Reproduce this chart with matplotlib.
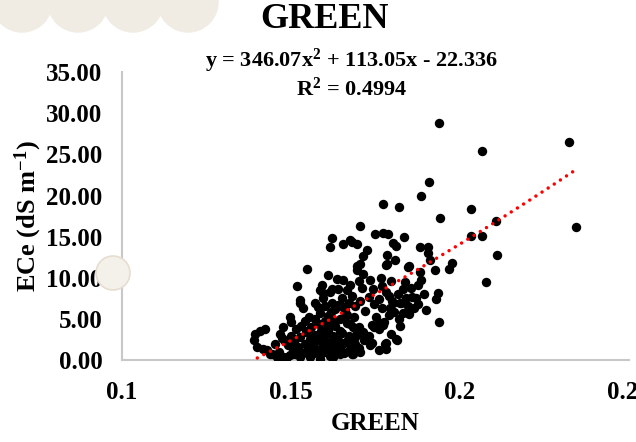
import matplotlib
matplotlib.use('Agg')
import matplotlib.pyplot as plt
from matplotlib.patches import Circle
import numpy as np

# GREEN index vs ECe
green = [
    # sparse upper / right points
    0.1938, 0.2322, 0.2064, 0.1908, 0.1884, 0.1771, 0.1820, 0.2032, 0.1940, 0.2105,
    0.2342, 0.1704, 0.1749, 0.1773, 0.1788, 0.1803, 0.1810, 0.1833, 0.1882, 0.1904,
    0.1906, 0.1911, 0.2031, 0.2065, 0.2110, 0.1783, 0.1781, 0.1809, 0.1849, 0.1977,
    0.1968, 0.1926, 0.1882, 0.1885, 0.2077, 0.1934, 0.1928, 0.1877, 0.1939, 0.1822,
    0.1810, 0.1781, 0.1781,
    # 0.15 - 0.175 upper band
    0.1620, 0.1675, 0.1615, 0.1655, 0.1680, 0.1694, 0.1724, 0.1714, 0.1704, 0.1694,
    0.1714, 0.1696, 0.1546, 0.1517, 0.1610, 0.1635, 0.1655, 0.1675, 0.1591, 0.1586,
    0.1615, 0.1665, 0.1527, 0.1783, 0.1847,
    # middle cluster
    0.1765, 0.1770, 0.1780, 0.1790, 0.1800, 0.1815, 0.1825, 0.1830, 0.1840, 0.1845,
    0.1855, 0.1858, 0.1838, 0.1795, 0.1770, 0.1790, 0.1805, 0.1820, 0.1850, 0.1870,
    0.1865, 0.1760, 0.1775, 0.1796, 0.1760, 0.1742, 0.1735, 0.1730, 0.1745, 0.1750,
    0.1740, 0.1730, 0.1720, 0.1710, 0.1705, 0.1700, 0.1690, 0.1685, 0.1700, 0.1715,
    0.1735, 0.1760, 0.1700, 0.1690, 0.1680, 0.1670, 0.1660, 0.1665, 0.1650, 0.1645,
    0.1640, 0.1630, 0.1628, 0.1625, 0.1620, 0.1610, 0.1605, 0.1600, 0.1600, 0.1595,
    0.1822, 0.1832, 0.1793, 0.1803, 0.1773, 0.1763, 0.1744, 0.1694, 0.1714, 0.1739,
    0.1778, 0.1813, 0.1680, 0.1875, 0.1893, 0.1898,
    # low dense cluster
    0.1393, 0.1408, 0.1423, 0.1389, 0.1400, 0.1428, 0.1443, 0.1458, 0.1487, 0.1418,
    0.1438, 0.1477, 0.1497, 0.1527, 0.1556, 0.1586, 0.1625, 0.1645, 0.1684,
    0.1527, 0.1536, 0.1571, 0.1581, 0.1586, 0.1497, 0.1477, 0.1467, 0.1500, 0.1541,
    0.1593, 0.1620, 0.1640, 0.1655, 0.1660, 0.1665, 0.1675,
    0.1480, 0.1490, 0.1500, 0.1505, 0.1510, 0.1515, 0.1520, 0.1525, 0.1530, 0.1535,
    0.1540, 0.1545, 0.1550, 0.1552, 0.1555, 0.1560, 0.1562, 0.1565, 0.1570, 0.1572,
    0.1575, 0.1580, 0.1582, 0.1585, 0.1590, 0.1592, 0.1597, 0.1600, 0.1603, 0.1607,
    0.1610, 0.1615, 0.1618, 0.1620, 0.1625, 0.1630, 0.1633, 0.1638, 0.1645, 0.1648,
    0.1652, 0.1658, 0.1662, 0.1670, 0.1675, 0.1682, 0.1688, 0.1695, 0.1705, 0.1710,
    0.1453, 0.1463, 0.1472, 0.1512, 0.1548, 0.1568, 0.1578, 0.1612, 0.1642, 0.1668,
]
ece = [
    28.8, 26.5, 25.4, 21.6, 20.0, 19.0, 18.6, 18.4, 17.3, 16.9,
    16.2, 16.3, 15.3, 15.5, 15.3, 14.2, 13.9, 15.0, 13.8, 13.7,
    13.0, 12.2, 15.1, 15.1, 12.8, 12.8, 11.6, 12.2, 11.5, 11.8,
    11.1, 10.9, 10.7, 9.8, 9.5, 8.2, 7.4, 6.8, 4.6, 4.2,
    2.6, 2.1, 1.4,
    14.8, 14.6, 13.8, 14.1, 14.3, 14.1, 13.4, 12.6, 11.7, 10.9,
    10.5, 11.5, 11.1, 9.0, 10.3, 9.9, 9.8, 9.1, 9.1, 8.5,
    8.3, 8.5, 7.3, 11.7, 11.3,
    10.0, 9.0, 8.3, 7.8, 7.2, 8.0, 7.0, 8.6, 7.5, 6.6,
    8.8, 7.7, 9.5, 9.6, 6.3, 5.5, 5.8, 5.0, 5.6, 7.5,
    6.3, 7.4, 4.6, 3.2, 3.8, 8.6, 9.7, 7.7, 6.8, 5.2,
    4.3, 3.0, 6.0, 8.8, 7.2, 9.6, 6.6, 5.3, 4.0, 2.5,
    1.8, 1.2, 1.5, 2.8, 7.8, 6.9, 5.9, 4.5, 7.5, 3.5,
    8.7, 6.2, 4.8, 2.2, 7.0, 5.4, 3.9, 6.6, 1.9, 7.6,
    6.9, 5.7, 6.3, 6.9, 4.3, 4.5, 4.0, 3.4, 3.4, 2.1,
    2.0, 2.5, 0.8, 9.1, 8.0, 6.1,
    3.2, 3.6, 3.8, 2.4, 1.6, 1.2, 0.8, 0.4, 0.4, 1.4,
    0.8, 0.4, 0.6, 0.4, 0.4, 0.2, 0.4, 0.8, 0.8,
    6.9, 6.3, 6.9, 6.5, 5.7, 5.2, 4.0, 3.2, 4.6, 4.8,
    8.2, 8.6, 6.7, 6.5, 6.1, 5.5, 4.4,
    2.5, 1.8, 3.0, 1.2, 2.2, 3.8, 1.6, 2.8, 4.2, 0.9,
    2.0, 3.4, 1.3, 5.3, 2.6, 4.0, 0.7, 1.9, 3.1, 5.0,
    1.1, 2.4, 4.4, 0.6, 3.5, 1.6, 2.9, 4.8, 1.0, 2.2,
    3.7, 0.5, 5.9, 1.6, 3.0, 4.2, 1.1, 2.5, 5.0, 1.7,
    3.3, 0.9, 2.2, 3.0, 1.4, 4.0, 2.0, 3.5, 1.0, 3.2,
    2.0, 1.0, 2.7, 0.8, 3.6, 1.5, 2.6, 4.4, 1.8, 2.4,
]

# polynomial trendline shown on the chart
coef = [346.07, 113.05, -22.336]
trend_range = [0.14, 0.235]

x_ticks = [0.1, 0.15, 0.2, 0.25]
x_tick_labels = ['0.1', '0.15', '0.2', '0.25']
y_ticks = [0, 5, 10, 15, 20, 25, 30, 35]

plt.rcParams['font.family'] = ['Liberation Serif', 'DejaVu Serif']
plt.rcParams['font.weight'] = 'bold'
plt.rcParams['mathtext.fontset'] = 'custom'
plt.rcParams['mathtext.rm'] = 'Liberation Serif:bold'
plt.rcParams['mathtext.bf'] = 'Liberation Serif:bold'
plt.rcParams['mathtext.it'] = 'Liberation Serif:bold'
plt.rcParams['mathtext.default'] = 'bf'

fig = plt.figure(figsize=(6.36, 4.42), dpi=100)
ax = fig.add_axes([0.192, 0.185, 0.797, 0.652])

# faded background circles (cropped from the source figure), in pixels
for cx, cy, r in [(22, 440, 30), (78, 440, 30), (133, 440, 30), (188, 440, 30)]:
    fig.patches.append(Circle((cx, cy), r, transform=None,
                              color='#f1ece3', zorder=0))
fig.patches.append(Circle((113, 169), 17, transform=None,
                          facecolor='#f4f0ea', edgecolor='#e6ddd0', lw=1.2, zorder=0))

ax.scatter(green, ece, s=46, color='black', zorder=3, linewidths=0)

xt = np.linspace(trend_range[0], trend_range[1], 200)
yt = np.polyval(coef, xt)
ax.plot(xt, yt, color='red', linestyle=(0, (0.01, 2.1)), linewidth=2.5,
        dash_capstyle='round', zorder=4)

ax.set_xlim(0.1, 0.25)
ax.set_ylim(0, 35)
ax.set_xticks(x_ticks)
ax.set_xticklabels(x_tick_labels)
ax.set_yticks(y_ticks)
ax.set_yticklabels([f'{v:.2f}' for v in y_ticks])
ax.tick_params(axis='y', length=0, labelsize=18, pad=14)
ax.tick_params(axis='x', length=0, labelsize=18, pad=15)
for lab in ax.get_xticklabels() + ax.get_yticklabels():
    lab.set_fontweight('bold')
for side in ['top', 'right']:
    ax.spines[side].set_visible(False)
for side in ['left', 'bottom']:
    ax.spines[side].set_color('#c8c8c8')
    ax.spines[side].set_linewidth(1.5)
ax.set_facecolor('none')

ax.set_xlabel('GREEN', fontsize=18, fontweight='bold', labelpad=6)
ax.set_ylabel('ECe (dS m$^{-1}$)', fontsize=19, fontweight='bold', labelpad=2)

fig.text(0.51, 0.955, 'GREEN', ha='center', va='center', fontsize=26, fontweight='bold')
fig.text(0.553, 0.833, 'y = 346.07x$^{2}$ + 113.05x - 22.336\nR$^{2}$ = 0.4994',
         ha='center', va='center', fontsize=16, fontweight='bold', linespacing=1.15)

fig.savefig('out.png', dpi=100)
